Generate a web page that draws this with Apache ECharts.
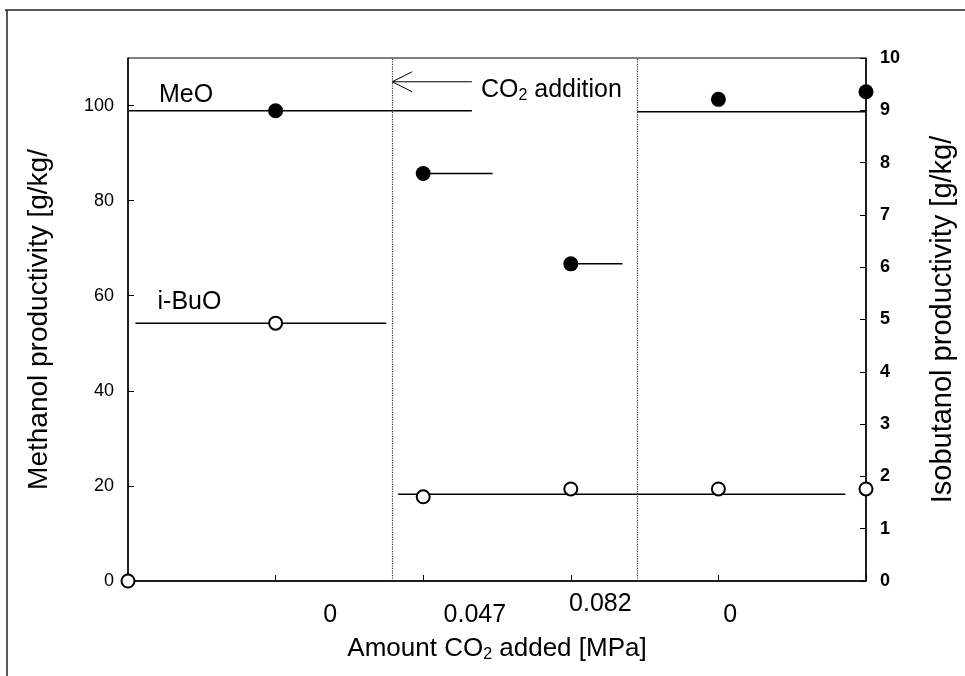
<!DOCTYPE html>
<html>
<head>
<meta charset="utf-8">
<script src="https://cdn.jsdelivr.net/npm/echarts@6/dist/echarts.min.js"></script>
<style>
  html, body { margin: 0; padding: 0; background: #fff; }
  #chart { width: 965px; height: 676px; }
</style>
</head>
<body>
<div id="chart"></div>
<script>
// run index on x (0..5)
const meoPoints = [[1, 98.9], [2, 85.7], [3, 66.7], [4, 101.3], [5, 102.9]];      // left axis
const ibuoPoints = [[0, 0], [1, 4.93], [2, 1.61], [3, 1.76], [4, 1.76], [5, 1.76]]; // right axis
// horizontal level lines: [xStart, xEnd, value]
const meoLevels = [[0, 2.33, 98.9], [3.45, 5, 98.7], [2.05, 2.47, 85.7], [3.04, 3.35, 66.7]];
const ibuoLevels = [[0.05, 1.75, 4.93], [1.83, 4.86, 1.66]];
// CO2 addition markers (dotted) and arrow [from, to, value]
const additionLines = [1.787, 3.446];
const arrow = [[2.33, 1.79, 105]];
// bottom labels: [x position, text]
const xLabelPos = [1.37, 2.35, 3.2, 4.08];
const xLabels = ['0', '0.047', '0.082', '0'];
const leftTicks = [0, 20, 40, 60, 80, 100];
const rightTicks = [0, 1, 2, 3, 4, 5, 6, 7, 8, 9, 10];
const seriesNames = [['MeO', 0.21, 102.3], ['i-BuO', 0.2, 58.7]];

const FONT = 'Liberation Sans';
const chart = echarts.init(document.getElementById('chart'));

function segRender(params, api) {
  const a = api.coord([api.value(0), api.value(2)]);
  const b = api.coord([api.value(1), api.value(2)]);
  return {
    type: 'line',
    shape: { x1: a[0], y1: a[1], x2: b[0], y2: b[1] },
    style: { stroke: '#000', lineWidth: 1.5 }
  };
}

const option = {
  animation: false,
  backgroundColor: '#fff',
  textStyle: { fontFamily: FONT, color: '#000' },
  graphic: [
    { type: 'line', shape: { x1: 5, y1: 10, x2: 965, y2: 10 }, style: { stroke: '#222', lineWidth: 1.5 } },
    { type: 'line', shape: { x1: 7, y1: 10, x2: 7, y2: 676 }, style: { stroke: '#222', lineWidth: 1.5 } }
  ],
  grid: { left: 128, right: 99, top: 58, bottom: 95, show: true, borderColor: '#000', borderWidth: 1 },
  xAxis: [
    {
      type: 'value', min: 0, max: 5, interval: 1,
      axisLine: { onZero: false, lineStyle: { color: '#000', width: 1.5 } },
      axisTick: { inside: true, length: 6, lineStyle: { color: '#000' } },
      minorTick: { show: false },
      axisLabel: { show: false },
      splitLine: { show: false },
      name: '{a|Amount CO}{s|2}{a| added [MPa]}',
      nameLocation: 'middle', nameGap: 54,
      nameTextStyle: {
        rich: {
          a: { fontFamily: FONT, fontSize: 26, color: '#000' },
          s: { fontFamily: FONT, fontSize: 16, color: '#000', padding: [12, 0, 0, 0] }
        }
      }
    },
    {
      type: 'value', min: 0, max: 5, position: 'bottom',
      axisLine: { show: false, onZero: false }, axisTick: { show: false }, splitLine: { show: false },
      axisLabel: {
        customValues: xLabelPos,
        margin: 11,
        formatter: function (v) {
          const i = xLabelPos.indexOf(v);
          const t = xLabels[i];
          return t === '0.082' ? '{u|' + t + '}' : '{d|' + t + '}';
        },
        rich: {
          d: { fontFamily: FONT, fontSize: 25, color: '#000', padding: [11, 0, 0, 0] },
          u: { fontFamily: FONT, fontSize: 25, color: '#000' }
        }
      }
    }
  ],
  yAxis: [
    {
      type: 'value', min: 0, max: 110, interval: 20, position: 'left',
      axisLine: { show: true, onZero: false, lineStyle: { color: '#000', width: 1.5 } },
      axisTick: { show: true, inside: true, length: 6, customValues: leftTicks, lineStyle: { color: '#000' } },
      minorTick: { show: false },
      axisLabel: { fontSize: 18, color: '#000', margin: 14, customValues: leftTicks },
      splitLine: { show: false },
      name: 'Methanol productivity [g/kg/', nameLocation: 'middle', nameGap: 75, nameRotate: 90,
      nameTextStyle: { fontSize: 28, color: '#000' }
    },
    {
      type: 'value', min: 0, max: 10, interval: 1, position: 'right',
      axisLine: { show: true, onZero: false, lineStyle: { color: '#000', width: 1.5 } },
      axisTick: { show: true, inside: true, length: 6, customValues: rightTicks, lineStyle: { color: '#000' } },
      minorTick: { show: false },
      axisLabel: { fontSize: 18, fontWeight: 'bold', color: '#000', margin: 14, customValues: rightTicks },
      splitLine: { show: false },
      name: 'Isobutanol productivity [g/kg/', nameLocation: 'middle', nameGap: 62, nameRotate: 90,
      nameTextStyle: { fontSize: 29, color: '#000' }
    }
  ],
  series: [
    {
      type: 'custom', name: 'MeO levels', xAxisIndex: 0, yAxisIndex: 0,
      renderItem: segRender, data: meoLevels, clip: false, z: 2,
      markLine: {
        silent: true, symbol: 'none', label: { show: false },
        lineStyle: { type: 'dotted', color: '#333', width: 1.2 },
        data: additionLines.map(x => ({ xAxis: x }))
      }
    },
    {
      type: 'custom', name: 'i-BuO levels', xAxisIndex: 0, yAxisIndex: 1,
      renderItem: segRender, data: ibuoLevels, clip: false, z: 2
    },
    {
      type: 'custom', name: 'arrow', xAxisIndex: 0, yAxisIndex: 0, clip: false, z: 3,
      data: arrow,
      renderItem: function (params, api) {
        const a = api.coord([api.value(0), api.value(2)]);
        const b = api.coord([api.value(1), api.value(2)]);
        const st = { stroke: '#000', lineWidth: 1, fill: 'none' };
        return {
          type: 'group',
          children: [
            { type: 'line', shape: { x1: a[0], y1: a[1], x2: b[0], y2: b[1] }, style: st },
            { type: 'polyline', shape: { points: [[b[0] + 20, b[1] - 10], b, [b[0] + 20, b[1] + 10]] }, style: st },
            {
              type: 'text', x: a[0] + 9, y: a[1] + 8,
              style: {
                text: '{a|CO}{s|2}{a| addition}',
                verticalAlign: 'middle',
                rich: {
                  a: { fontFamily: FONT, fontSize: 25, fill: '#000' },
                  s: { fontFamily: FONT, fontSize: 16, fill: '#000', padding: [12, 0, 0, 0] }
                }
              }
            }
          ]
        };
      }
    },
    {
      type: 'scatter', name: 'labels', xAxisIndex: 0, yAxisIndex: 0, symbolSize: 0, z: 3,
      itemStyle: { opacity: 1 },
      data: seriesNames.map(d => ({ value: [d[1], d[2]], label: { formatter: d[0] } })),
      label: { show: true, position: 'right', fontSize: 25, color: '#000', fontFamily: FONT, distance: 0 }
    },
    {
      type: 'scatter', name: 'MeO', xAxisIndex: 0, yAxisIndex: 0, clip: false, z: 5,
      symbol: 'circle', symbolSize: 15, itemStyle: { color: '#000', opacity: 1 },
      data: meoPoints
    },
    {
      type: 'scatter', name: 'i-BuO', xAxisIndex: 0, yAxisIndex: 1, clip: false, z: 5,
      symbol: 'circle', symbolSize: 13, itemStyle: { color: '#fff', borderColor: '#000', borderWidth: 2, opacity: 1 },
      data: ibuoPoints
    }
  ]
};
chart.setOption(option);
</script>
</body>
</html>
